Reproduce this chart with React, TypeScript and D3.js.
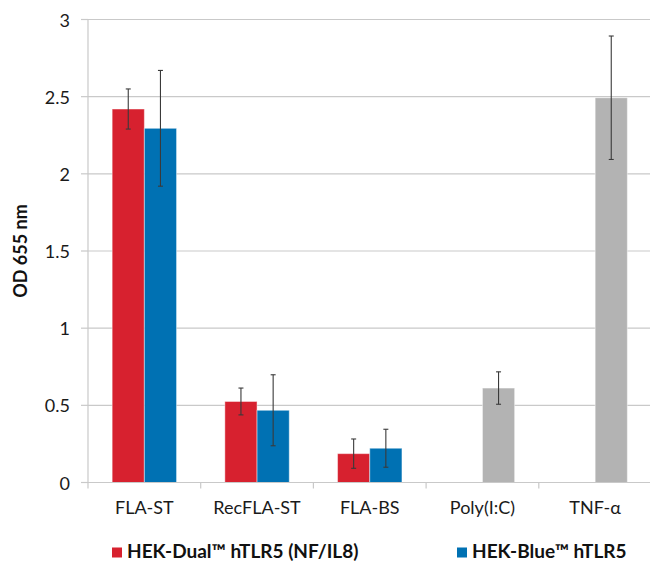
import React from "react";
import * as d3 from "d3";

const categories = ["FLA-ST", "RecFLA-ST", "FLA-BS", "Poly(I:C)", "TNF-α"];
const dualValues: (number | null)[] = [2.42, 0.525, 0.187, null, null];
const dualErrors: (number | null)[] = [0.13, 0.087, 0.095, null, null];
const blueValues: (number | null)[] = [2.295, 0.468, 0.222, 0.612, 2.493];
const blueErrors: (number | null)[] = [0.375, 0.23, 0.123, 0.105, 0.4];
const controlCategories = ["Poly(I:C)", "TNF-α"];
const yTicks = [0, 0.5, 1, 1.5, 2, 2.5, 3];
const yTickLabels = ["0", "0.5", "1", "1.5", "2", "2.5", "3"];
const seriesNames = ["HEK-Dual™ hTLR5 (NF/IL8)", "HEK-Blue™ hTLR5"];

const RED = "#d7212f";
const BLUE = "#0071b3";
const GRAY = "#b3b3b3";
const GRID = "#c9c9c9";
const FONT = "Lato, 'Open Sans', sans-serif";

export default function App() {
  const W = 650;
  const H = 562;
  const left = 88;
  const right = 651.5;
  const top = 19.5;
  const bottom = 482.5;

  const x = d3.scaleBand<string>().domain(categories).range([left, right]).paddingInner(0).paddingOuter(0);
  const y = d3.scaleLinear().domain([0, 3]).range([bottom, top]);
  const barW = x.bandwidth() / 3.5;
  const xs = d3.scaleBand<number>().domain([0, 1]).range([-barW, barW]);

  const series = [
    { values: dualValues, errors: dualErrors, color: RED },
    { values: blueValues, errors: blueErrors, color: BLUE },
  ];

  return (
    <svg width={W} height={H} style={{ position: "absolute", left: 0, top: 0, background: "#fff" }} fontFamily={FONT}>
      {yTicks.map((t, i) => (
        <g key={"g" + i}>
          {t !== 0 && <line x1={left} x2={W} y1={y(t)} y2={y(t)} stroke={GRID} strokeWidth={1.2} />}
          <line x1={left - 7} x2={left} y1={y(t)} y2={y(t)} stroke={GRID} strokeWidth={1.2} />
          <text x={70} y={y(t)} textAnchor="end" dominantBaseline="central" fontSize={18} fill="#1a1a1a">
            {yTickLabels[i]}
          </text>
        </g>
      ))}
      {series.map((s, si) =>
        categories.map((c, ci) => {
          const v = s.values[ci];
          if (v == null) return null;
          const color = si === 1 && controlCategories.includes(c) ? GRAY : s.color;
          const cx = (x(c) as number) + x.bandwidth() / 2;
          const bx = cx + (xs(si) as number);
          return (
            <rect key={"b" + si + "-" + ci} x={bx} y={y(v)} width={xs.bandwidth()} height={y(0) - y(v)} fill={color}
              stroke="rgba(255,255,255,0.45)" strokeWidth={1} />
          );
        })
      )}
      <line x1={left} x2={left} y1={top} y2={bottom + 6} stroke={GRID} strokeWidth={1.2} />
      <line x1={left} x2={W} y1={bottom} y2={bottom} stroke={GRID} strokeWidth={1.2} />
      {categories.map((c, ci) => (
        <line key={"t" + ci} x1={(x(c) as number) + x.bandwidth()} x2={(x(c) as number) + x.bandwidth()} y1={bottom} y2={bottom + 6}
          stroke={GRID} strokeWidth={1.2} />
      ))}
      {series.map((s, si) =>
        categories.map((c, ci) => {
          const v = s.values[ci];
          const e = s.errors[ci];
          if (v == null || e == null) return null;
          const cx = (x(c) as number) + x.bandwidth() / 2 + (xs(si) as number) + xs.bandwidth() / 2;
          const y1 = y(v + e);
          const y2 = y(v - e);
          return (
            <g key={"e" + si + "-" + ci} stroke="#3a3a3a" strokeWidth={1.1}>
              <line x1={cx} x2={cx} y1={y1} y2={y2} />
              <line x1={cx - 2.5} x2={cx + 2.5} y1={y1} y2={y1} />
              <line x1={cx - 2.5} x2={cx + 2.5} y1={y2} y2={y2} />
            </g>
          );
        })
      )}
      {categories.map((c, ci) => (
        <text key={"l" + ci} x={(x(c) as number) + x.bandwidth() / 2} y={514} textAnchor="middle" fontSize={18} fill="#1a1a1a">
          {c}
        </text>
      ))}
      <text transform="translate(20,251) rotate(-90)" textAnchor="middle" dominantBaseline="central" fontSize={18}
        fontWeight="bold" fill="#111">
        OD 655 nm
      </text>
      <rect x={112} y={547.5} width={10} height={10} fill={RED} />
      <text x={127} y={558} fontSize={19} fontWeight="bold" fill="#111">{seriesNames[0]}</text>
      <rect x={457} y={547.5} width={10} height={10} fill={BLUE} />
      <text x={472} y={558} fontSize={19} fontWeight="bold" fill="#111">{seriesNames[1]}</text>
    </svg>
  );
}
